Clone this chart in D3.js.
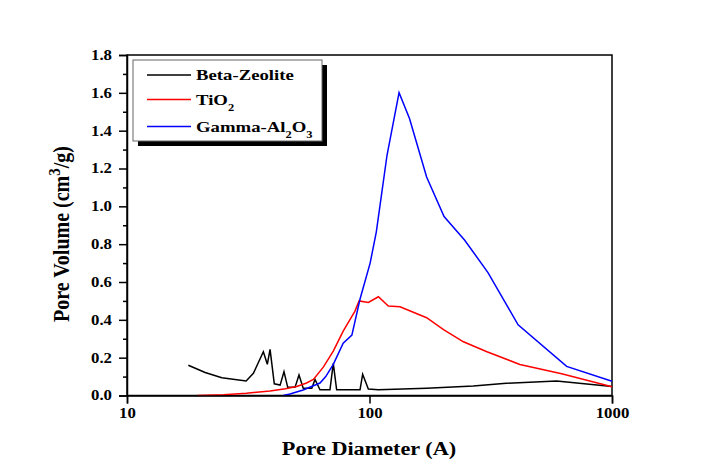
<!DOCTYPE html>
<html>
<head>
<meta charset="utf-8">
<script src="https://cdn.jsdelivr.net/npm/d3@7"></script>
<style>
  html, body { margin: 0; padding: 0; background: #fff; }
  svg text { font-family: "Liberation Serif", "Times New Roman", serif; font-weight: bold; }
</style>
</head>
<body>
<svg id="chart" width="710" height="474"></svg>
<script>
// ---- data (pore diameter in Å, pore volume in cm3/g) ----
const betaD = [17.9, 21.0, 24.6, 31.0, 33.2, 36.5, 37.9, 38.9, 40.5, 42.8, 44.4, 46.0, 49.3, 51.2, 53.3, 57.8, 59.6, 62.5, 68.7, 70.9, 73.2, 91.4, 93.7, 98.9, 108.7, 172, 268, 356, 591, 1000];
const betaV = [0.160, 0.122, 0.094, 0.077, 0.117, 0.231, 0.165, 0.244, 0.062, 0.055, 0.126, 0.043, 0.043, 0.108, 0.038, 0.038, 0.085, 0.030, 0.030, 0.170, 0.030, 0.030, 0.112, 0.034, 0.030, 0.038, 0.050, 0.064, 0.076, 0.048];

const tioD = [19.5, 25, 31.1, 38.9, 45, 50.1, 55, 58.7, 64.5, 70.9, 77.9, 87.0, 90.6, 98.9, 108.8, 119.6, 133.6, 172, 202, 244, 305, 417, 620, 1000];
const tioV = [0.000, 0.004, 0.012, 0.024, 0.036, 0.048, 0.066, 0.085, 0.150, 0.235, 0.340, 0.445, 0.500, 0.492, 0.522, 0.473, 0.469, 0.411, 0.348, 0.284, 0.231, 0.164, 0.115, 0.046];

const alD = [44.1, 47, 50, 53.3, 57, 62.5, 66, 70.9, 77.9, 84.6, 91.4, 100.6, 106.7, 118.1, 132.4, 146.2, 172, 203, 247, 308, 410, 650, 1000];
const alV = [0.000, 0.008, 0.018, 0.029, 0.045, 0.066, 0.100, 0.165, 0.276, 0.319, 0.510, 0.700, 0.865, 1.270, 1.601, 1.464, 1.155, 0.946, 0.821, 0.650, 0.374, 0.154, 0.075];

const seriesNames = ["Beta-Zeolite", "TiO2", "Gamma-Al2O3"];
const seriesColors = ["#000000", "#ff0000", "#0000ff"];
const xTicks = [10, 100, 1000];
const yTicks = [0, 0.2, 0.4, 0.6, 0.8, 1.0, 1.2, 1.4, 1.6, 1.8];
const yMinorTicks = [0.1, 0.3, 0.5, 0.7, 0.9, 1.1, 1.3, 1.5, 1.7];

// ---- layout ----
const svg = d3.select("#chart");
const mLeft = 127, mRight = 612, mTop = 55, mBottom = 395.5;
const stretch = 1.2; // the reference text is horizontally widened

const x = d3.scaleLog().domain([10, 1000]).range([mLeft, mRight]);
const y = d3.scaleLinear().domain([0, 1.8]).range([mBottom, mTop]);

const seriesData = [
  betaD.map((d, i) => [d, betaV[i]]),
  tioD.map((d, i) => [d, tioV[i]]),
  alD.map((d, i) => [d, alV[i]])
];

// frame
svg.append("rect")
  .attr("x", mLeft).attr("y", mTop)
  .attr("width", mRight - mLeft).attr("height", mBottom - mTop)
  .attr("fill", "none").attr("stroke", "#000").attr("stroke-width", 1.5);

// lines
const line = d3.line().x(d => x(d[0])).y(d => y(d[1]));
seriesData.forEach((s, i) => {
  svg.append("path").datum(s)
    .attr("d", line)
    .attr("fill", "none")
    .attr("stroke", seriesColors[i])
    .attr("stroke-width", 1.5)
    .attr("stroke-linejoin", "miter");
});

// x axis
const xAxis = d3.axisBottom(x).tickValues(xTicks).tickFormat(d3.format("d")).tickSize(8).tickPadding(5);
const gx = svg.append("g").attr("transform", `translate(0,${mBottom})`).call(xAxis);
gx.select(".domain").attr("stroke-width", 1.5);
gx.selectAll(".tick line").attr("stroke-width", 1.5);
gx.selectAll("text").attr("font-size", 14).attr("fill", "#000")
  .attr("transform", `scale(${stretch},1)`)
  .style("font-family", "'Liberation Serif', serif").style("font-weight", "bold");

// y axis
const yAxis = d3.axisLeft(y).tickValues(yTicks).tickFormat(d3.format(".1f")).tickSize(8).tickPadding(7);
const gy = svg.append("g").attr("transform", `translate(${mLeft},0)`).call(yAxis);
gy.select(".domain").attr("stroke-width", 1.5);
gy.selectAll(".tick line").attr("stroke-width", 1.5);
gy.selectAll("text").attr("font-size", 14).attr("fill", "#000")
  .attr("x", -15 / stretch)
  .attr("transform", `scale(${stretch},1)`)
  .style("font-family", "'Liberation Serif', serif").style("font-weight", "bold");
const gyMinor = svg.append("g").attr("transform", `translate(${mLeft},0)`)
  .call(d3.axisLeft(y).tickValues(yMinorTicks).tickFormat("").tickSize(4));
gyMinor.select(".domain").remove();
gyMinor.selectAll(".tick line").attr("stroke-width", 1.5);

// axis titles
svg.append("text")
  .attr("transform", `translate(369,455) scale(1.17,1)`)
  .attr("text-anchor", "middle")
  .attr("font-size", 19)
  .text("Pore Diameter (A)");

const yt = svg.append("text")
  .attr("transform", "translate(69,234) rotate(-90) scale(1,1.15)")
  .attr("text-anchor", "middle")
  .attr("font-size", 20);
yt.append("tspan").text("Pore Volume (cm");
yt.append("tspan").attr("dy", -8).attr("font-size", 15).text("3");
yt.append("tspan").attr("dy", 8).text("/g)");

// legend
const lg = svg.append("g");
lg.append("rect").attr("x", 138).attr("y", 65).attr("width", 189).attr("height", 81).attr("fill", "#000");
lg.append("rect").attr("x", 133).attr("y", 60).attr("width", 189).attr("height", 81)
  .attr("fill", "#fff").attr("stroke", "#666").attr("stroke-width", 1);

const rowsY = [75, 99.5, 126.5];
seriesNames.forEach((name, i) => {
  lg.append("line").attr("x1", 147).attr("x2", 191).attr("y1", rowsY[i]).attr("y2", rowsY[i])
    .attr("stroke", seriesColors[i]).attr("stroke-width", 1.5);
  const t = lg.append("g").attr("transform", `translate(196,${rowsY[i] + 5}) scale(1.25,1)`)
    .append("text").attr("x", 0).attr("y", 0).attr("font-size", 15);
  if (name === "TiO2") {
    t.append("tspan").text("TiO");
    t.append("tspan").attr("dy", 6).attr("font-size", 10).text("2");
  } else if (name === "Gamma-Al2O3") {
    t.append("tspan").text("Gamma-Al");
    t.append("tspan").attr("dy", 6).attr("font-size", 10).text("2");
    t.append("tspan").attr("dy", -6).text("O");
    t.append("tspan").attr("dy", 6).attr("font-size", 10).text("3");
  } else {
    t.text(name);
  }
});
</script>
</body>
</html>
